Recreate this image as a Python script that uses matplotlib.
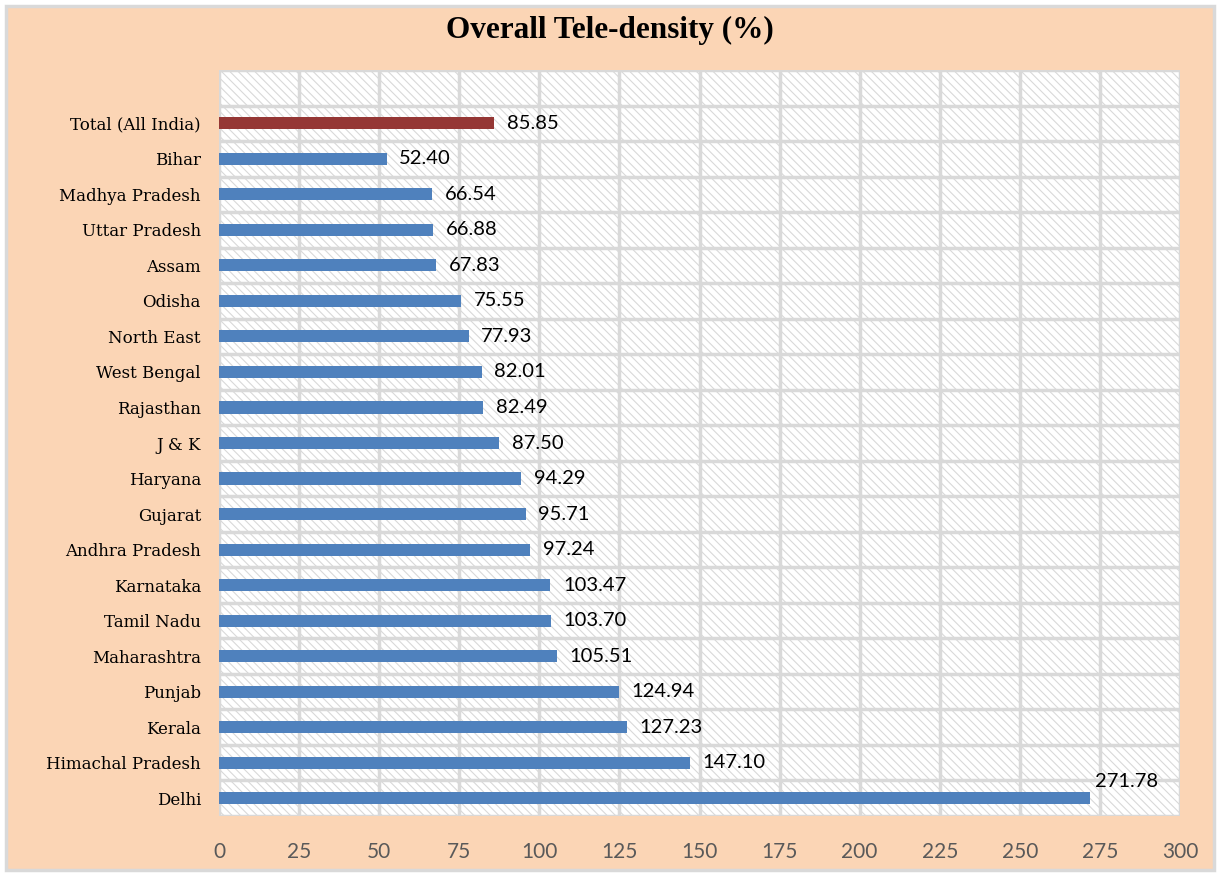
import matplotlib.pyplot as plt
import matplotlib as mpl
from matplotlib.patches import Rectangle

states = ['Total (All India)', 'Bihar', 'Madhya Pradesh', 'Uttar Pradesh', 'Assam',
          'Odisha', 'North East', 'West Bengal', 'Rajasthan', 'J & K', 'Haryana',
          'Gujarat', 'Andhra Pradesh', 'Karnataka', 'Tamil Nadu', 'Maharashtra',
          'Punjab', 'Kerala', 'Himachal Pradesh', 'Delhi']
density = [85.85, 52.40, 66.54, 66.88, 67.83, 75.55, 77.93, 82.01, 82.49, 87.50,
           94.29, 95.71, 97.24, 103.47, 103.70, 105.51, 124.94, 127.23, 147.10, 271.78]
x_ticks = [0, 25, 50, 75, 100, 125, 150, 175, 200, 225, 250, 275, 300]

mpl.rcParams['hatch.color'] = '#d9d9d9'
mpl.rcParams['hatch.linewidth'] = 0.8

fig = plt.figure(figsize=(12.2, 8.76), dpi=100)
fig.patch.set_facecolor('white')
fig.patches.append(Rectangle((6 / 1220, 6 / 876), 1208 / 1220, 864 / 876,
                             transform=fig.transFigure, facecolor='#fbd5b5',
                             edgecolor='#d9d9d9', linewidth=2.5, zorder=-10))

ax = fig.add_axes([219 / 1220, 60 / 876, 961 / 1220, 746 / 876], zorder=1)
ax.set_facecolor('white')
ax.add_patch(Rectangle((0, 0), 1, 1, transform=ax.transAxes, facecolor='white',
                       hatch='\\\\\\\\', edgecolor='#d9d9d9', linewidth=0, zorder=0))

n = len(states)
ypos = [n - 1 - i for i in range(n)]
colors = ['#953735' if s.startswith('Total') else '#4f81bd' for s in states]
ax.barh(ypos, density, height=0.34, color=colors, zorder=3)

for y, v, s in zip(ypos, density, states):
    if s == 'Delhi':
        ax.annotate(f'{v:.2f}', (v, y), xytext=(4, 6), textcoords='offset points',
                    va='bottom', ha='left', fontsize=14.5, family='Lato', zorder=4)
    else:
        ax.annotate(f'{v:.2f}', (v, y), xytext=(9, 0), textcoords='offset points',
                    va='center', ha='left', fontsize=14.5, family='Lato', zorder=4)

ax.set_xlim(0, 300)
ax.set_ylim(-0.5, n + 0.5)
ax.set_xticks(x_ticks)
ax.set_yticks(ypos)
ax.set_yticklabels(states, family='DejaVu Serif', fontsize=12)
ax.set_yticks([i - 0.5 for i in range(n + 2)], minor=True)
ax.tick_params(axis='y', which='both', length=0, pad=13)
ax.tick_params(axis='x', length=0, pad=19, labelsize=15, labelcolor='#595959')
for lab in ax.get_xticklabels():
    lab.set_family('Lato')
ax.grid(True, axis='x', which='major', color='#d9d9d9', linewidth=2.5, zorder=1)
ax.grid(True, axis='y', which='minor', color='#d9d9d9', linewidth=2.5, zorder=1)
ax.set_axisbelow(True)
for sp in ax.spines.values():
    sp.set_visible(False)

fig.text(0.5, 1 - 30 / 876, 'Overall Tele-density (%)', ha='center', va='center',
         fontsize=22.5, fontweight='bold', family='Liberation Serif')

fig.savefig('out.png', dpi=100, facecolor=fig.get_facecolor())
